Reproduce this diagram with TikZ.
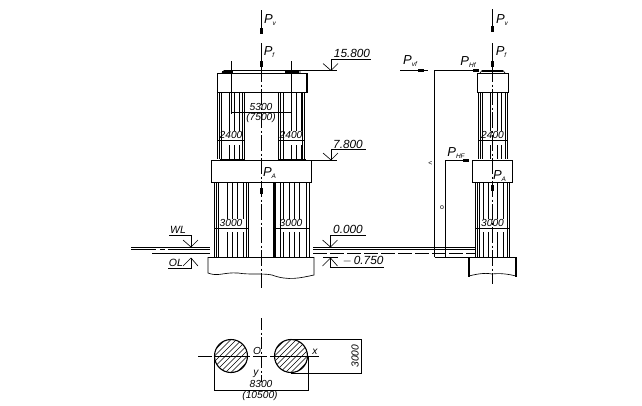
\documentclass[tikz,border=0pt]{standalone}
\usepackage{fontspec}
\setmainfont{Liberation Sans}
\newcommand{\Pf}[1]{{\fontsize{13}{13}\selectfont\itshape P\raisebox{-2pt}{\fontsize{6.5}{6.5}\selectfont #1}}}
\newcommand{\elevD}[2]{\draw[ln] (#1-8,#2-7) -- (#1,#2) -- (#1+7,#2-7);}
\newcommand{\elevU}[2]{\draw[ln] (#1-8,#2+8) -- (#1,#2) -- (#1+7,#2+8);}
\newcommand{\colmn}[6]{%
 \foreach \q in {#1} {\draw[ln] (\q,#3) -- (\q,#6);}
 \foreach \q in {#2} {\draw[ln] (\q,#3) -- (\q,#4); \draw[ln] (\q,#5) -- (\q,#6);}}
\newcommand{\hatchc}[2]{%
 \begin{scope}
 \clip (#1,#2) circle (16.5);
 \foreach \d in {-33,-27.5,...,33} {\draw[ln] (#1+\d-20,#2+20) -- (#1+\d+20,#2-20);}
 \end{scope}
 \draw[thick line] (#1,#2) circle (16.5);}
\tikzset{ln/.style={line width=0.65pt,black},
 thick line/.style={line width=1.1pt,black},
 axisline/.style={line width=0.7pt,black,dash pattern=on 16pt off 2.5pt on 2pt off 2.5pt},
 head/.style={fill=black,draw=none,minimum width=3pt,minimum height=6pt,inner sep=0pt},
 hhead/.style={fill=black,draw=none,minimum width=6pt,minimum height=3pt,inner sep=0pt},
 dimA/.style={inner sep=0pt,font=\fontsize{10.2}{10.2}\selectfont\itshape},
 dimB/.style={inner sep=0pt,font=\fontsize{11.8}{11.8}\selectfont\itshape},
 dimC/.style={inner sep=0pt,font=\fontsize{10.5}{10.5}\selectfont\itshape},
 lab/.style={inner sep=0pt}}
\begin{document}
\begin{tikzpicture}[x=1pt,y=-1pt]
\useasboundingbox[fill=white] (0,0) rectangle (642,405);
% ---- left elevation
\draw[ln] (261,10) -- (261,29);
\node[head] (al1) at (261,31) {};
\draw[ln] (261,43) -- (261,62);
\node[head] (al2) at (261,63.5) {};
\draw[axisline] (261,66) -- (261,288);
\node[head] (al3) at (261,191) {};
\node[lab] (pv1) at (270,20) {\Pf{v}};
\node[lab] (pf1) at (269,52) {\Pf{f}};
% caps
\draw[ln] (217,73) rectangle (307,92);
\draw[thick line] (307,73) -- (307,92);
\draw[thick line] (224,70.5) -- (300,70.5);
\draw[ln] (222,73) -- (224,70.5) (300,70.5) -- (300,73);
\draw[thick line] (222,72) -- (233,72) (285,72) -- (299,72);
\draw[ln] (211,160) rectangle (311,182);
\draw[thick line] (220,159.5) -- (245,159.5) (278,159.5) -- (306,159.5);
% upper columns
\colmn{217,219,221,242,244}{229,234,239}{92}{131}{145}{159}
\colmn{278,280,283,302,304}{291,296,301}{92}{131}{145}{159}
\draw[thick line] (217,140.5) -- (244,140.5) (278,140.5) -- (304,140.5);
% lower columns
\colmn{214,216,218,246,248}{227,232,237,243}{182}{219}{232}{257}
\colmn{274,275,280,306,309}{283,289,294,299}{182}{219}{232}{257}
\draw[thick line] (274,182) -- (274,257);
\draw[ln] (214,228.5) -- (248,228.5) (274,228.5) -- (309,228.5);
\node[dimA] (t24a) at (231,135) {2400};
\node[dimA] (t24b) at (291,135) {2400};
\node[dimA] (t30a) at (231,223) {3000};
\node[dimA] (t30b) at (291,223) {3000};
\node[lab] (pa1) at (269.5,173) {\Pf{A}};
% dim 5300
\draw[ln] (231,61) -- (231,114) (291,61) -- (291,114) (231,112) -- (291,112);
\node[dimA] (t53) at (261,107) {5300};
\node[dimA] (t75) at (261,118) {(7500)};
% elevations
\draw[ln] (300,70.5) -- (337,70.5) (331,70.5) -- (331,59) -- (371,59);
\elevD{331}{70.5}
\node[dimB] (e158) at (352,53) {15.800};
\draw[ln] (311,160) -- (337,160) (331,160) -- (331,149) -- (366,149);
\elevD{331}{160}
\node[dimB] (e78) at (348,144) {7.800};
\draw[ln] (330.5,247) -- (330.5,235) -- (366,235);
\elevD{330.5}{247}
\node[dimB] (e00) at (348,229) {0.000};
\draw[ln] (330.5,258) -- (330.5,267) -- (384,267);
\elevU{330.5}{258}
\node[dimB] (e75) at (363,261) {$-$\,0.750};
\draw[ln] (169,235) -- (191,235) -- (191,247);
\elevD{191}{247}
\node[dimC] (wl) at (178,230) {WL};
\draw[ln] (168,268) -- (191,268) -- (191,258);
\elevU{191}{258}
\node[dimC] (ol) at (176,263) {OL};
% water
\draw[ln] (131,247) -- (210,247);
\draw[ln] (131,249.5) -- (156,249.5) (160,249.5) -- (165,249.5) (168,249.5) -- (210,249.5);
\draw[ln] (152,253) -- (210,253);
\draw[ln] (313,247) -- (475,247);
\draw[thick line] (313,249.5) -- (475,249.5);
\draw[ln,dash pattern=on 14pt off 3pt] (313,253) -- (475,253);
% foundation
\draw[ln] (208,257) -- (314,257);
\draw[ln] (208,257) -- (208,273) .. controls (218,277) and (224,272) .. (238,273) .. controls (250,275) and (262,273) .. (272,275) .. controls (288,281) and (300,278) .. (314,275) -- (314,257);
\draw[ln] (323,257) -- (338,257);
% ---- right elevation
\draw[ln] (492,9) -- (492,27);
\node[head] (ar1) at (492,29) {};
\draw[ln] (492,43) -- (492,62);
\node[head] (ar2) at (492,63.5) {};
\draw[axisline] (492,66) -- (492,284);
\node[head] (ar3) at (492,188) {};
\node[lab] (pv2) at (502,20) {\Pf{v}};
\node[lab] (pf2) at (501,52) {\Pf{f}};
\node[lab] (pa2) at (499.5,176) {\Pf{A}};
\draw[ln] (477,73) rectangle (508,92);
\draw[thick line] (482,71) -- (503,71);
\draw[ln] (480,73) -- (482,70.5) (503,70.5) -- (505,73);
\draw[ln] (472,160) rectangle (512,182);
\colmn{478,480,482,505,507}{490,497,501}{92}{131}{145}{159}
\draw[thick line] (478,140.5) -- (507,140.5);
\colmn{475,477,479,507,509}{483,488,497,503}{182}{219}{232}{257}
\draw[ln] (475,228.5) -- (509,228.5);
\node[dimA] (t24c) at (492.5,135) {2400};
\node[dimA] (t30c) at (492.5,223) {3000};
\draw[ln] (469,257) -- (516,257);
\draw[thick line] (469,257) -- (469,277) (516,257) -- (516,277);
\draw[ln] (469,276) .. controls (480,273) and (488,273) .. (492,274) .. controls (500,273) and (508,274) .. (516,276);
% horizontal forces
\draw[ln] (400,70.5) -- (428,70.5);
\node[hhead] (hf1) at (421,70.5) {};
\node[lab] (pvf) at (410,61) {\Pf{vf}};
\draw[ln] (434.5,257) -- (434.5,70.5) -- (474,70.5);
\node[hhead] (hf2) at (476,70.5) {};
\node[lab] (phf) at (468,62) {\Pf{Hf}};
\draw[ln] (434.5,257) -- (473,257);
\draw[ln] (445,257) -- (445,160) -- (464,160);
\node[hhead] (hf3) at (466,160.5) {};
\node[lab] (phF) at (456,153) {\Pf{HF}};
\node[inner sep=0pt,font=\fontsize{7}{7}\selectfont] (h1) at (430.5,163.5) {<};
\node[inner sep=0pt,font=\fontsize{7}{7}\selectfont] (h2) at (442,208) {o};
% ---- section
\hatchc{231}{356}
\hatchc{291}{356}
\draw[ln] (198,356) -- (212,356) (214,356) -- (250,356);
\draw[ln] (253,356) -- (267,356) (270,356) -- (319,356);
\draw[axisline,dash pattern=on 12pt off 2.5pt on 2pt off 2.5pt] (261,318) -- (261,382);
\node[dimA] (o) at (257,351) {O};
\node[dimA] (y) at (256,374) {y};
\node[dimA] (xx) at (315,352) {x};
\draw[ln] (291,339.5) -- (362,339.5) (291,373) -- (362,373) (361,339.5) -- (361,373);
\node[dimA,rotate=90] (t30d) at (355,356) {3000};
\draw[ln] (214,356) -- (214,390) -- (308,390) -- (308,356);
\node[dimA] (t83) at (261,384) {8300};
\node[dimA] (t105) at (260,395.5) {(10500)};
\end{tikzpicture}
\end{document}
